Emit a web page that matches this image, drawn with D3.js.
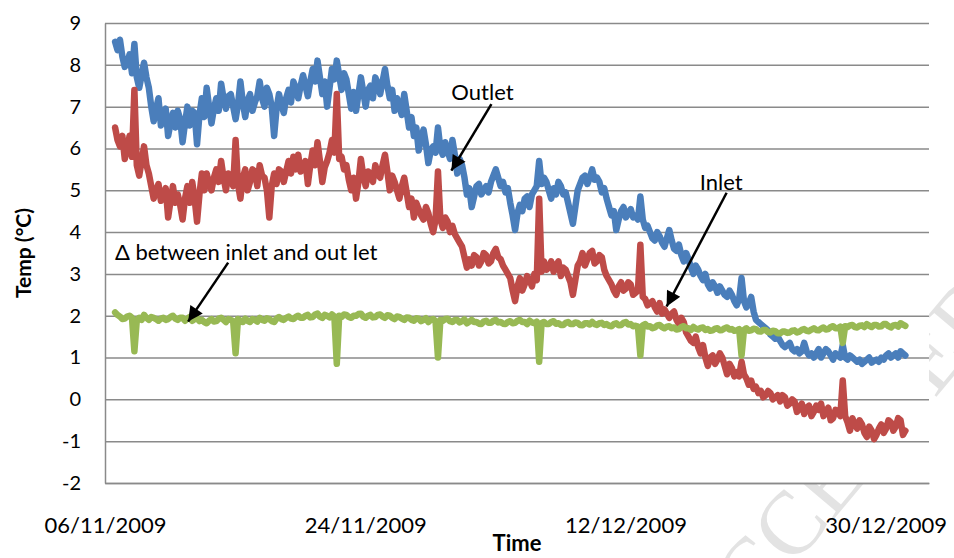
<!DOCTYPE html>
<html>
<head>
<meta charset="utf-8">
<script src="https://cdn.jsdelivr.net/npm/d3@7"></script>
<style>
  body { margin: 0; background: #fff; }
  svg { display: block; font-family: Lato, "Open Sans", sans-serif; }
</style>
</head>
<body>
<div id="chart"></div>
<script>
// datos
var startDate = "06/11/2009";
var endDate = "02/01/2010";
var firstSample = 0.7;   // dias desde startDate
var sampleStep = 1 / 6;  // dias entre lecturas

var outlet = [
  8.55, 8.35, 8.6, 8.2, 7.95, 8.05, 8.25, 7.8, 8.5, 7.7,
  7.45, 7.75, 8.05, 7.7, 7.45, 7.0, 6.65, 6.95, 7.2, 6.55,
  6.8, 6.95, 6.3, 6.6, 6.85, 6.5, 6.9, 6.7, 6.15, 6.6,
  7.0, 6.55, 6.9, 6.85, 6.1, 6.8, 7.2, 6.75, 7.45, 7.0,
  6.6, 6.95, 7.2, 6.9, 7.55, 7.2, 6.95, 7.25, 7.3, 7.0,
  6.7, 7.05, 7.6, 7.1, 6.75, 7.15, 7.3, 6.9, 7.1, 7.25,
  7.6, 7.2, 7.0, 7.45, 7.3, 7.0, 6.3, 6.95, 7.3, 7.05,
  6.85, 7.2, 7.4, 7.1, 7.6, 7.45, 7.2, 7.5, 7.75, 7.5,
  7.25, 7.6, 7.9, 7.6, 8.1, 7.7, 7.3, 7.6, 7.0, 7.45,
  7.9, 7.65, 8.1, 7.75, 7.4, 7.8, 7.65, 7.3, 6.95, 7.35,
  6.9, 7.3, 7.7, 7.35, 7.0, 7.4, 7.5, 7.2, 7.7, 7.55,
  7.3, 7.6, 7.9, 7.5, 7.2, 7.4, 6.9, 7.2, 7.0, 6.8,
  7.3, 6.9, 6.5, 6.75, 6.3, 6.5, 5.95, 6.25, 6.45, 6.1,
  5.65, 5.95, 6.05, 5.9, 6.5, 6.0, 5.85, 6.15, 5.95, 5.75,
  6.2, 5.85, 5.4, 5.75, 5.6, 5.3, 4.9, 5.05, 4.6, 4.85,
  5.1, 5.15, 4.9, 5.0, 5.1, 4.95, 5.2, 5.35, 5.5, 5.3,
  5.1, 5.2, 4.95, 5.05, 4.7, 4.4, 4.05, 4.45, 4.65, 4.5,
  4.8, 4.85, 4.6, 4.9, 5.0, 5.1, 5.7, 5.15, 5.3, 5.2,
  5.0, 4.8, 5.05, 4.9, 5.2, 5.1, 4.9, 4.95, 4.7, 4.45,
  4.2, 4.6, 5.0, 5.15, 5.3, 5.35, 5.15, 5.3, 5.5, 5.25,
  5.3, 5.2, 4.95, 5.05, 4.8, 4.6, 4.4, 4.5, 4.05, 4.3,
  4.5, 4.6, 4.35, 4.45, 4.55, 4.35, 4.4, 4.3, 4.85, 4.3,
  4.1, 4.15, 4.0, 3.85, 3.8, 4.0, 3.9, 3.75, 3.65, 3.85,
  4.05, 3.8, 3.6, 3.55, 3.7, 3.45, 3.3, 3.5, 3.35, 3.15,
  3.0, 3.2, 3.1, 2.95, 2.85, 3.0, 2.75, 2.65, 2.8, 2.7,
  2.55, 2.7, 2.6, 2.5, 2.45, 2.6, 2.5, 2.35, 2.25, 2.4,
  2.9, 2.35, 2.2, 2.3, 2.45, 2.1, 1.9, 1.85, 1.8, 1.75,
  1.7, 1.65, 1.55, 1.5, 1.45, 1.5, 1.4, 1.3, 1.25, 1.3,
  1.35, 1.2, 1.15, 1.2, 1.1, 1.15, 1.35, 1.15, 1.05, 1.1,
  1.0, 1.1, 1.2, 1.0, 1.1, 1.2, 1.15, 1.05, 0.95, 1.1,
  1.05, 1.0, 1.3, 1.0, 0.95, 1.05, 1.0, 0.95, 0.9, 0.95,
  0.85, 0.9, 0.95, 1.0, 0.88, 0.92, 0.95, 0.9, 1.0, 0.95,
  1.05, 1.1, 1.0, 1.05, 1.1, 1.0, 1.15, 1.1, 1.05
];

var inlet = [
  6.5, 6.2, 6.05, 6.3, 5.75, 6.0, 6.3, 5.8, 7.4, 5.6,
  5.35, 5.7, 6.05, 5.6, 5.4, 5.1, 4.8, 5.0, 5.15, 4.75,
  4.9, 5.05, 4.35, 4.75, 5.1, 4.7, 4.9, 4.65, 4.3, 4.8,
  5.1, 4.7, 5.2, 4.8, 4.25, 4.9, 5.4, 5.0, 5.4, 5.15,
  5.0, 5.3, 5.5, 5.2, 5.7, 5.3, 5.0, 5.4, 5.3, 5.1,
  6.2, 5.15, 4.8, 5.3, 5.5, 5.0, 5.2, 5.5, 5.45, 5.1,
  5.6, 5.35, 5.3, 5.0, 4.35, 5.1, 5.4, 5.15, 5.5, 5.45,
  5.2, 5.45, 5.7, 5.4, 5.8, 5.5, 5.85, 5.45, 5.5, 5.7,
  5.15, 5.6, 5.95, 5.6, 6.15, 5.7, 5.2, 5.55, 5.7, 5.9,
  6.2, 5.9, 7.3, 5.75, 5.8, 5.5, 5.6, 5.25, 5.0, 5.3,
  4.8, 5.2, 5.75, 5.35, 5.1, 5.45, 5.4, 5.2, 5.6, 5.4,
  5.3, 5.6, 5.85, 5.45, 5.0, 5.35, 5.2, 5.0, 4.8, 5.1,
  5.3, 4.95, 4.6, 4.8, 4.35, 4.7, 4.55, 4.4, 4.3, 4.6,
  4.45, 4.2, 4.0, 4.3, 5.45, 4.3, 4.1, 4.35, 4.25, 4.0,
  4.15, 3.95, 3.85, 3.75, 3.65, 3.4, 3.15, 3.35, 3.2, 3.45,
  3.4, 3.2, 3.3, 3.5, 3.45, 3.25, 3.3, 3.5, 3.6, 3.4,
  3.35, 3.2, 3.1, 3.0, 2.9, 2.6, 2.35, 2.7, 2.9, 2.6,
  2.75, 2.95, 2.85, 2.7, 3.0, 2.85, 4.8, 3.05, 3.3, 3.1,
  3.15, 3.3, 3.05, 3.2, 3.3, 2.95, 3.15, 3.1, 2.95, 2.8,
  2.5, 2.85, 3.2, 3.3, 3.5, 3.2, 3.35, 3.5, 3.55, 3.25,
  3.3, 3.45, 3.4, 3.1, 2.95, 2.85, 2.75, 2.6, 2.5, 2.7,
  2.8, 2.6, 2.65, 2.8, 2.75, 2.5, 2.55, 2.6, 3.7, 2.45,
  2.4, 2.25, 2.3, 2.35, 2.2, 2.1, 2.3, 2.05, 2.15, 2.05,
  1.95, 2.05, 2.1, 1.9, 1.8, 1.95, 1.85, 1.6, 1.5, 1.4,
  1.35, 1.5, 1.25, 1.1, 1.3, 1.0, 0.8, 1.0, 1.05, 0.85,
  0.95, 1.1, 1.0, 0.8, 0.6, 0.85, 0.75, 0.55, 0.65, 0.55,
  0.9, 0.6, 0.5, 0.35, 0.45, 0.25, 0.3, 0.15, 0.2, 0.05,
  0.1, 0.2, 0.15, 0.0, 0.05, 0.1, -0.05, 0.1, 0.05, -0.15,
  -0.1, 0.0, -0.05, -0.3, -0.2, -0.1, -0.35, -0.2, -0.15, -0.4,
  -0.3, -0.15, -0.25, -0.1, -0.4, -0.3, -0.2, -0.5, -0.45, -0.25,
  -0.3, -0.4, 0.45, -0.4, -0.55, -0.75, -0.45, -0.6, -0.7, -0.5,
  -0.6, -0.8, -0.9, -0.65, -0.75, -0.95, -0.85, -0.7, -0.6, -0.8,
  -0.7, -0.5, -0.55, -0.75, -0.65, -0.45, -0.5, -0.85, -0.75
];

var delta = [
  2.08, 2.02, 1.98, 1.92, 1.93, 1.98, 2.0, 1.95, 1.15, 1.9,
  1.95, 1.9, 2.02, 1.95, 1.9, 1.97, 1.95, 1.92, 1.88, 1.93,
  1.95, 1.9, 1.92, 1.97, 2.0, 1.93, 1.9, 1.95, 1.95, 1.88,
  1.93, 1.97, 1.88, 1.92, 1.95, 1.87, 1.9, 1.85, 1.82, 1.88,
  1.92, 1.86, 1.87, 1.93, 1.95, 1.9, 1.85, 1.92, 1.9, 1.87,
  1.1, 1.92, 1.88, 1.85, 1.93, 1.88, 1.85, 1.92, 1.9, 1.86,
  1.95, 1.9, 1.88, 1.94, 1.92, 1.87, 1.85, 1.93, 1.97, 1.92,
  1.9, 1.95, 1.98, 1.93, 1.92, 1.97, 2.0, 1.95, 1.95, 2.0,
  2.02, 1.96, 1.97, 2.03, 2.05, 1.98, 1.95, 2.02, 2.0, 1.96,
  2.03, 1.98, 0.85, 2.0, 1.97, 2.03, 2.02, 1.97, 1.95, 2.0,
  2.0, 2.04, 2.05, 1.98, 1.95, 2.0, 2.02, 1.96, 1.97, 2.02,
  2.03, 1.98, 1.95, 2.01, 2.0, 1.95, 1.92, 1.98, 1.97, 1.93,
  1.9, 1.96, 1.95, 1.9, 1.88, 1.94, 1.93, 1.87, 1.9, 1.94,
  1.85, 1.9, 1.92, 1.87, 1.0, 1.9, 1.88, 1.92, 1.93, 1.87,
  1.85, 1.9, 1.9, 1.84, 1.87, 1.91, 1.82, 1.86, 1.9, 1.85,
  1.85, 1.81, 1.8, 1.86, 1.88, 1.83, 1.83, 1.88, 1.9, 1.84,
  1.85, 1.81, 1.8, 1.85, 1.87, 1.82, 1.83, 1.88, 1.9, 1.85,
  1.85, 1.8, 1.88, 1.84, 1.82, 1.86, 0.9, 1.82, 1.85, 1.8,
  1.8, 1.85, 1.87, 1.81, 1.82, 1.78, 1.78, 1.83, 1.85, 1.8,
  1.8, 1.84, 1.83, 1.78, 1.77, 1.82, 1.82, 1.79, 1.85, 1.8,
  1.78, 1.82, 1.83, 1.78, 1.8, 1.76, 1.75, 1.8, 1.82, 1.77,
  1.78, 1.83, 1.85, 1.79, 1.8, 1.75, 1.76, 1.74, 1.05, 1.77,
  1.8, 1.74, 1.75, 1.7, 1.72, 1.77, 1.78, 1.73, 1.7, 1.74,
  1.75, 1.7, 1.72, 1.67, 1.68, 1.73, 1.75, 1.7, 1.7, 1.66,
  1.73, 1.69, 1.67, 1.71, 1.72, 1.66, 1.68, 1.64, 1.65, 1.69,
  1.7, 1.65, 1.66, 1.7, 1.72, 1.67, 1.68, 1.64, 1.65, 1.68,
  1.05, 1.66, 1.7, 1.64, 1.65, 1.69, 1.68, 1.63, 1.62, 1.66,
  1.66, 1.61, 1.6, 1.64, 1.63, 1.58, 1.58, 1.62, 1.62, 1.59,
  1.6, 1.64, 1.65, 1.6, 1.62, 1.66, 1.68, 1.64, 1.63, 1.67,
  1.7, 1.66, 1.65, 1.69, 1.72, 1.67, 1.68, 1.73, 1.75, 1.7,
  1.7, 1.74, 1.35, 1.75, 1.73, 1.77, 1.78, 1.73, 1.72, 1.76,
  1.77, 1.73, 1.8, 1.76, 1.73, 1.78, 1.78, 1.74, 1.75, 1.8,
  1.8, 1.75, 1.72, 1.77, 1.78, 1.74, 1.82, 1.79, 1.76
];

var yTicks = [-2, -1, 0, 1, 2, 3, 4, 5, 6, 7, 8, 9];
var xTickLabels = ["06/11/2009", "24/11/2009", "12/12/2009", "30/12/2009"];

// anotaciones: [dias desde startDate, temp]
var notes = [
  { text: "\u0394 between inlet and out let", at: [0.69, 3.34], from: [8.52, 3.27], to: [5.75, 1.86] },
  { text: "Outlet", at: [23.96, 7.16], from: [26.73, 7.06], to: [23.96, 5.47] },
  { text: "Inlet", at: [41.14, 5.01], from: [43.0, 4.94], to: [38.85, 2.22] }
];

var width = 954,
    height = 558,
    margin = { top: 23, right: 25, bottom: 75, left: 105 };

var parseDay = d3.timeParse("%d/%m/%Y");
var t0 = parseDay(startDate);

function dayToDate(d) {
    return new Date(t0.getTime() + d * 864e5);
}

var times = outlet.map(function (v, i) { return dayToDate(firstSample + i * sampleStep); });

var x = d3.scaleTime()
    .domain([t0, parseDay(endDate)])
    .range([margin.left, width - margin.right]);

var y = d3.scaleLinear()
    .domain([d3.min(yTicks), d3.max(yTicks)])
    .range([height - margin.bottom, margin.top]);

var svg = d3.select("#chart")
    .append("svg")
    .attr("width", width)
    .attr("height", height);

// marca de agua de la revista (queda detras del area de trazado)
svg.append("text")
    .attr("transform", "translate(713,663) rotate(-50)")
    .text("ACCEPTED MANUSCRIPT")
    .style("font-family", "'Liberation Serif', serif")
    .style("font-size", "90px")
    .style("fill", "#e3e3e3");

svg.append("rect")
    .attr("x", margin.left)
    .attr("y", margin.top)
    .attr("width", width - margin.left - margin.right)
    .attr("height", height - margin.top - margin.bottom)
    .style("fill", "#fff");

// lineas de grilla
svg.append("g")
    .attr("transform", "translate(" + margin.left + ",0)")
    .call(d3.axisLeft(y).tickValues(yTicks).tickSize(-(width - margin.left - margin.right)).tickFormat(""))
    .call(function (g) { g.select(".domain").remove(); })
    .selectAll("line")
    .style("stroke", "#8a8a8a")
    .style("stroke-width", "1.5px");

// eje y
var yAxis = svg.append("g")
    .attr("transform", "translate(" + margin.left + ",0)")
    .call(d3.axisLeft(y).tickValues(yTicks).tickSize(0).tickPadding(24).tickFormat(function (d) { return String(d); }));
yAxis.select(".domain").style("stroke", "#8a8a8a").style("stroke-width", "1.5px");
yAxis.selectAll("text")
    .style("font-family", "Lato, sans-serif")
    .style("font-size", "20px")
    .style("fill", "#000");

// eje x
var xAxis = svg.append("g")
    .attr("transform", "translate(0," + (height - margin.bottom) + ")")
    .call(d3.axisBottom(x).tickValues(xTickLabels.map(parseDay)).tickSize(0).tickPadding(34).tickFormat(d3.timeFormat("%d/%m/%Y")));
xAxis.select(".domain").style("stroke", "#8a8a8a").style("stroke-width", "1.5px");
xAxis.selectAll("text")
    .style("font-family", "Lato, sans-serif")
    .style("font-size", "22px")
    .style("fill", "#000");

// series
var line = d3.line()
    .x(function (d, i) { return x(times[i]); })
    .y(function (d) { return y(d); });

[[outlet, "#4a7ebb"], [inlet, "#be4b48"], [delta, "#98b954"]].forEach(function (s) {
    svg.append("path")
        .datum(s[0])
        .attr("d", line)
        .style("fill", "none")
        .style("stroke", s[1])
        .style("stroke-width", "6.5px")
        .style("stroke-linejoin", "round")
        .style("stroke-linecap", "round");
});

// flechas
svg.append("defs").append("marker")
    .attr("id", "head")
    .attr("viewBox", "0 -5 10 10")
    .attr("refX", 10)
    .attr("refY", 0)
    .attr("markerUnits", "userSpaceOnUse")
    .attr("markerWidth", 18)
    .attr("markerHeight", 15)
    .attr("orient", "auto")
    .append("path")
    .attr("d", "M0,-5L10,0L0,5Z")
    .style("fill", "#000");

notes.forEach(function (n) {
    svg.append("line")
        .attr("x1", x(dayToDate(n.from[0])))
        .attr("y1", y(n.from[1]))
        .attr("x2", x(dayToDate(n.to[0])))
        .attr("y2", y(n.to[1]))
        .style("stroke", "#000")
        .style("stroke-width", "2.5px")
        .attr("marker-end", "url(#head)");

    svg.append("text")
        .attr("x", x(dayToDate(n.at[0])))
        .attr("y", y(n.at[1]))
        .text(n.text)
        .style("font-size", "22px")
        .style("fill", "#000");
});

// titulos de ejes
svg.append("text")
    .attr("transform", "translate(31," + ((margin.top + height - margin.bottom) / 2) + ") rotate(-90)")
    .attr("text-anchor", "middle")
    .text("Temp (\u00B0C)")
    .style("font-size", "21px")
    .style("font-weight", "bold");

svg.append("text")
    .attr("x", (margin.left + width - margin.right) / 2)
    .attr("y", 551)
    .attr("text-anchor", "middle")
    .text("Time")
    .style("font-size", "22px")
    .style("font-weight", "bold");
</script>
</body>
</html>
